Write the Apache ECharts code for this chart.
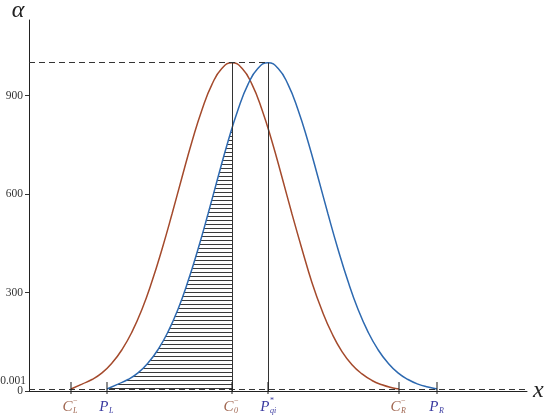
<!DOCTYPE html>
<html><head><meta charset="utf-8">
<script src="https://cdn.jsdelivr.net/npm/echarts@6/dist/echarts.min.js"></script>
<style>html,body{margin:0;padding:0;background:#fff}#c{width:550px;height:420px}</style>
</head><body><div id="c"></div>
<script>
// ---- data (x in axis units, y in α units) ----
const xMax = 498;
const yMax = 1130;
const yTicks = [0, 300, 600, 900];
const peakLevel = 1000;
const floorLevel = 6;
const floorLabel = '0.001';

const redX = [42, 53, 63, 73, 83, 93, 103, 113, 123, 133, 143, 153, 163, 173, 183, 193, 203,
              213, 223, 233, 243, 253, 263, 273, 283, 293, 303, 313, 323, 333, 343, 353, 363, 370];
const redY = [6, 21, 35, 55, 85, 126, 180, 249, 334, 432, 539, 651, 760, 857, 934, 983, 1000,
              983, 934, 857, 760, 651, 539, 432, 330, 245, 175, 120, 80, 52, 32, 19, 10, 6];

const blueX = [78, 89, 99, 109, 119, 129, 139, 149, 159, 169, 179, 189, 199, 209, 219, 229, 239,
               249, 259, 269, 279, 289, 299, 309, 319, 329, 339, 349, 359, 369, 379, 389, 399, 408];
const blueY = [6, 21, 35, 55, 85, 126, 180, 249, 334, 432, 539, 651, 760, 857, 934, 983, 1000,
               983, 934, 857, 760, 651, 539, 432, 334, 249, 180, 126, 85, 55, 35, 21, 12, 6];

const hatchX = [78, 89, 99, 109, 119, 129, 139, 149, 159, 169, 179, 189, 199, 203];
const hatchY = [6, 21, 35, 55, 85, 126, 180, 249, 334, 432, 539, 651, 760, 800];

const tickValues = [42, 78, 203, 239, 370, 408];
const tickMain   = ['C', 'P', 'C', 'P', 'C', 'P'];
const tickSub    = ['L', 'L', '0', 'qi', 'R', 'R'];
const tickSup    = ['−', '', '−', '*', '−', ''];

const centerC = 203, centerP = 239;

// ---- styles ----
const RED = '#a44a2c', BLUE = '#2d69b0';
const CLAB = '#a06650', PLAB = '#3a3aa0';
const SERIF = '"Liberation Serif", "DejaVu Serif", serif';

const pc = document.createElement('canvas');
pc.width = 4; pc.height = 4;
const pctx = pc.getContext('2d');
pctx.fillStyle = '#3a3a3a';
pctx.fillRect(0, 0, 4, 1);

const zip = (xs, ys) => xs.map((x, i) => [x, ys[i]]);

const chart = echarts.init(document.getElementById('c'), null, {renderer: 'canvas'});
const dashed = {type: [6, 4], color: '#333', width: 1};
const solid = {type: 'solid', color: '#333', width: 1};

chart.setOption({
  animation: false,
  backgroundColor: '#fff',
  grid: {left: 29, right: 23, top: 20, bottom: 29, containLabel: false, outerBoundsMode: 'none'},
  xAxis: {
    type: 'value', min: 0, max: xMax,
    name: 'x', nameLocation: 'end', nameGap: 6,
    nameTextStyle: {fontFamily: SERIF, fontStyle: 'italic', fontSize: 24, color: '#222', verticalAlign: 'middle', padding: [0, 0, 4, 0]},
    axisLine: {show: true, lineStyle: {color: '#222', width: 1}},
    axisTick: {show: false}, axisLabel: {show: false}, splitLine: {show: false}
  },
  yAxis: {
    type: 'value', min: 0, max: yMax, interval: 300,
    name: 'α', nameLocation: 'end', nameGap: -3,
    nameTextStyle: {fontFamily: SERIF, fontStyle: 'italic', fontSize: 24, color: '#222', align: 'center', padding: [0, 22, 0, 0]},
    axisLine: {show: true, lineStyle: {color: '#222', width: 1}},
    axisTick: {show: true, length: 4, customValues: yTicks, lineStyle: {color: '#333'}},
    axisLabel: {show: true, customValues: yTicks, margin: 6, fontFamily: SERIF, fontSize: 11.5, color: '#333',
      formatter: v => yTicks.indexOf(v) >= 0 ? String(v) : ''},
    splitLine: {show: false}
  },
  series: [
    {
      type: 'line', data: zip(hatchX, hatchY), symbol: 'none', smooth: 0.5, z: 1,
      lineStyle: {width: 0, opacity: 0},
      areaStyle: {color: {image: pc, repeat: 'repeat'}, opacity: 1, origin: 'start'},
      silent: true
    },
    {
      type: 'line', data: zip(redX, redY), symbol: 'none', smooth: 0.5, z: 3,
      lineStyle: {color: RED, width: 1.5}, silent: true,
      markLine: {
        silent: true, symbol: ['none', 'none'], label: {show: false}, animation: false,
        data: [
          [{coord: [0, floorLevel], lineStyle: dashed}, {coord: [xMax, floorLevel]}],
          [{coord: [0, peakLevel], lineStyle: dashed}, {coord: [centerP, peakLevel]}],
          [{coord: [centerC, 0], lineStyle: solid}, {coord: [centerC, peakLevel]}],
          [{coord: [centerP, 0], lineStyle: solid}, {coord: [centerP, peakLevel]}]
        ]
      }
    },
    {
      type: 'line', data: zip(blueX, blueY), symbol: 'none', smooth: 0.5, z: 3,
      lineStyle: {color: BLUE, width: 1.5}, silent: true
    },
    {
      type: 'scatter', data: tickValues.map(v => [v, floorLevel]), symbol: 'rect',
      symbolSize: [1.3, 12], symbolOffset: [0, -1], itemStyle: {color: '#222'}, z: 5, silent: true
    }
  ]
});

// ---- text annotations positioned through the axes ----
const y0 = chart.convertToPixel({yAxisIndex: 0}, 0);
const yF = chart.convertToPixel({yAxisIndex: 0}, floorLevel);
const gx = chart.convertToPixel({xAxisIndex: 0}, 0);
const graphics = [];
tickValues.forEach((v, i) => {
  const px = chart.convertToPixel({xAxisIndex: 0}, v);
  const col = tickMain[i] === 'C' ? CLAB : PLAB;
  graphics.push({type: 'text', silent: true, style: {text: tickMain[i], x: px + 1.5, y: y0 + 16, align: 'right', verticalAlign: 'middle',
    font: 'italic 15px ' + SERIF, fill: col}});
  if (tickSub[i]) graphics.push({type: 'text', silent: true, style: {text: tickSub[i], x: px + 2, y: y0 + 20, align: 'left', verticalAlign: 'middle',
    font: 'italic 8px ' + SERIF, fill: col}});
  if (tickSup[i]) graphics.push({type: 'text', silent: true, style: {text: tickSup[i], x: px + 2, y: y0 + 10, align: 'left', verticalAlign: 'middle',
    font: '8px ' + SERIF, fill: col}});
});
graphics.push({type: 'text', silent: true, style: {text: floorLabel, x: gx - 3, y: yF - 8, align: 'right', verticalAlign: 'middle',
  font: '11.5px ' + SERIF, fill: '#333'}});
chart.setOption({graphic: graphics});
</script>
</body></html>
